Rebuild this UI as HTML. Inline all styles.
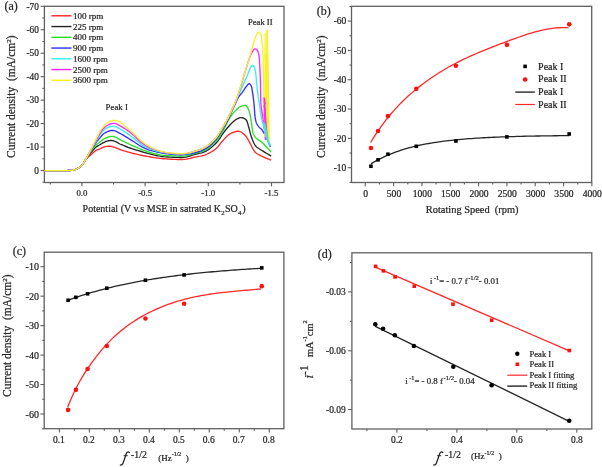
<!DOCTYPE html>
<html><head><meta charset="utf-8"><style>
html,body{margin:0;padding:0;background:#fff;}
svg{display:block;will-change:transform;}
text{font-family:"Liberation Serif",serif;stroke:#2a2a2a;stroke-width:0.22px;}
</style></head><body>
<svg width="602" height="467" viewBox="0 0 602 467">
<rect width="602" height="467" fill="#fff"/>
<rect x="44.4" y="6.3" width="239.6" height="176.2" fill="none" stroke="#606060" stroke-width="1.3"/>
<line x1="40.6" y1="6.30" x2="44.4" y2="6.30" stroke="#606060" stroke-width="1.1"/>
<line x1="40.6" y1="29.76" x2="44.4" y2="29.76" stroke="#606060" stroke-width="1.1"/>
<line x1="40.6" y1="53.22" x2="44.4" y2="53.22" stroke="#606060" stroke-width="1.1"/>
<line x1="40.6" y1="76.67" x2="44.4" y2="76.67" stroke="#606060" stroke-width="1.1"/>
<line x1="40.6" y1="100.13" x2="44.4" y2="100.13" stroke="#606060" stroke-width="1.1"/>
<line x1="40.6" y1="123.59" x2="44.4" y2="123.59" stroke="#606060" stroke-width="1.1"/>
<line x1="40.6" y1="147.04" x2="44.4" y2="147.04" stroke="#606060" stroke-width="1.1"/>
<line x1="40.6" y1="170.50" x2="44.4" y2="170.50" stroke="#606060" stroke-width="1.1"/>
<line x1="42.4" y1="18.03" x2="44.4" y2="18.03" stroke="#606060" stroke-width="1.1"/>
<line x1="42.4" y1="41.49" x2="44.4" y2="41.49" stroke="#606060" stroke-width="1.1"/>
<line x1="42.4" y1="64.94" x2="44.4" y2="64.94" stroke="#606060" stroke-width="1.1"/>
<line x1="42.4" y1="88.40" x2="44.4" y2="88.40" stroke="#606060" stroke-width="1.1"/>
<line x1="42.4" y1="111.86" x2="44.4" y2="111.86" stroke="#606060" stroke-width="1.1"/>
<line x1="42.4" y1="135.31" x2="44.4" y2="135.31" stroke="#606060" stroke-width="1.1"/>
<line x1="42.4" y1="158.77" x2="44.4" y2="158.77" stroke="#606060" stroke-width="1.1"/>
<line x1="42.4" y1="182.23" x2="44.4" y2="182.23" stroke="#606060" stroke-width="1.1"/>
<line x1="81.90" y1="182.5" x2="81.90" y2="186.3" stroke="#606060" stroke-width="1.1"/>
<line x1="145.10" y1="182.5" x2="145.10" y2="186.3" stroke="#606060" stroke-width="1.1"/>
<line x1="208.30" y1="182.5" x2="208.30" y2="186.3" stroke="#606060" stroke-width="1.1"/>
<line x1="271.50" y1="182.5" x2="271.50" y2="186.3" stroke="#606060" stroke-width="1.1"/>
<line x1="50.30" y1="182.5" x2="50.30" y2="184.5" stroke="#606060" stroke-width="1.1"/>
<line x1="113.50" y1="182.5" x2="113.50" y2="184.5" stroke="#606060" stroke-width="1.1"/>
<line x1="176.70" y1="182.5" x2="176.70" y2="184.5" stroke="#606060" stroke-width="1.1"/>
<line x1="239.90" y1="182.5" x2="239.90" y2="184.5" stroke="#606060" stroke-width="1.1"/>
<text x="38.90" y="9.50" font-size="9.3" text-anchor="end" fill="#222" >-70</text>
<text x="38.90" y="32.96" font-size="9.3" text-anchor="end" fill="#222" >-60</text>
<text x="38.90" y="56.42" font-size="9.3" text-anchor="end" fill="#222" >-50</text>
<text x="38.90" y="79.87" font-size="9.3" text-anchor="end" fill="#222" >-40</text>
<text x="38.90" y="103.33" font-size="9.3" text-anchor="end" fill="#222" >-30</text>
<text x="38.90" y="126.79" font-size="9.3" text-anchor="end" fill="#222" >-20</text>
<text x="38.90" y="150.24" font-size="9.3" text-anchor="end" fill="#222" >-10</text>
<text x="38.90" y="173.70" font-size="9.3" text-anchor="end" fill="#222" >0</text>
<text x="81.90" y="196.20" font-size="8.8" text-anchor="middle" fill="#222" >0.0</text>
<text x="145.10" y="196.20" font-size="8.8" text-anchor="middle" fill="#222" >-0.5</text>
<text x="208.30" y="196.20" font-size="8.8" text-anchor="middle" fill="#222" >-1.0</text>
<text x="271.50" y="196.20" font-size="8.8" text-anchor="middle" fill="#222" >-1.5</text>
<text x="82.6" y="211.7" font-size="10" fill="#222" xml:space="preserve">Potential (V v.s MSE in satrated K<tspan font-size="6.8" dy="2.8" dx="0.3">2</tspan><tspan dy="-2.8" dx="0.3">SO</tspan><tspan font-size="6.8" dy="2.8" dx="0.3">4</tspan><tspan dy="-2.8" dx="0.8">)</tspan></text>
<text transform="translate(15.3,158) rotate(-90)" font-size="11.5" fill="#222" xml:space="preserve">Current density  (mA/cm<tspan font-size="7" dy="-4.5">2</tspan><tspan dy="4.5">)</tspan></text>
<text x="4.50" y="9.80" font-size="12" text-anchor="start" fill="#222" >(a)</text>
<text x="105.60" y="109.60" font-size="8.8" text-anchor="start" fill="#222" >Peak I</text>
<text x="248.00" y="24.60" font-size="8.6" text-anchor="start" fill="#222" >Peak II</text>
<line x1="51.4" y1="15.80" x2="71.5" y2="15.80" stroke="#ff2020" stroke-width="1.4"/>
<text x="73.00" y="18.80" font-size="9.0" text-anchor="start" fill="#222" >100 rpm</text>
<line x1="51.4" y1="26.55" x2="71.5" y2="26.55" stroke="#222222" stroke-width="1.4"/>
<text x="73.00" y="29.55" font-size="9.0" text-anchor="start" fill="#222" >225 rpm</text>
<line x1="51.4" y1="37.30" x2="71.5" y2="37.30" stroke="#22e022" stroke-width="1.4"/>
<text x="73.00" y="40.30" font-size="9.0" text-anchor="start" fill="#222" >400 rpm</text>
<line x1="51.4" y1="48.05" x2="71.5" y2="48.05" stroke="#2a2aff" stroke-width="1.4"/>
<text x="73.00" y="51.05" font-size="9.0" text-anchor="start" fill="#222" >900 rpm</text>
<line x1="51.4" y1="58.80" x2="71.5" y2="58.80" stroke="#30f0f0" stroke-width="1.4"/>
<text x="73.00" y="61.80" font-size="9.0" text-anchor="start" fill="#222" >1600 rpm</text>
<line x1="51.4" y1="69.55" x2="71.5" y2="69.55" stroke="#ff20ff" stroke-width="1.4"/>
<text x="73.00" y="72.55" font-size="9.0" text-anchor="start" fill="#222" >2500 rpm</text>
<line x1="51.4" y1="80.30" x2="71.5" y2="80.30" stroke="#f8f020" stroke-width="1.4"/>
<text x="73.00" y="83.30" font-size="9.0" text-anchor="start" fill="#222" >3600 rpm</text>
<path d="M44.40,170.60 L45.35,170.60 L46.30,170.60 L47.24,170.60 L48.19,170.60 L49.14,170.60 L50.09,170.60 L51.04,170.60 L52.00,170.60 L52.99,170.60 L54.00,170.60 L55.01,170.60 L56.02,170.60 L57.03,170.60 L58.03,170.60 L59.02,170.60 L60.00,170.60 L60.91,170.60 L61.81,170.60 L62.71,170.60 L63.60,170.59 L64.48,170.59 L65.34,170.58 L66.18,170.57 L67.00,170.55 L67.67,170.53 L68.32,170.52 L68.96,170.51 L69.59,170.49 L70.21,170.47 L70.81,170.43 L71.41,170.38 L72.00,170.30 L72.53,170.22 L73.05,170.13 L73.56,170.02 L74.06,169.91 L74.56,169.78 L75.04,169.64 L75.53,169.48 L76.00,169.30 L76.46,169.10 L76.92,168.89 L77.37,168.66 L77.81,168.42 L78.24,168.16 L78.67,167.89 L79.09,167.60 L79.50,167.30 L79.92,166.98 L80.32,166.64 L80.72,166.29 L81.11,165.93 L81.49,165.55 L81.86,165.15 L82.23,164.73 L82.60,164.30 L83.00,163.77 L83.38,163.19 L83.74,162.58 L84.09,161.96 L84.45,161.33 L84.83,160.70 L85.25,160.09 L85.70,159.50 L86.25,158.88 L86.85,158.27 L87.48,157.68 L88.13,157.09 L88.80,156.51 L89.47,155.94 L90.14,155.37 L90.80,154.80 L91.44,154.23 L92.09,153.64 L92.75,153.06 L93.40,152.48 L94.06,151.92 L94.71,151.40 L95.36,150.92 L96.00,150.50 L96.51,150.21 L97.01,149.97 L97.51,149.75 L98.01,149.56 L98.51,149.38 L99.00,149.19 L99.50,149.01 L100.00,148.80 L100.50,148.57 L100.99,148.33 L101.47,148.09 L101.96,147.84 L102.45,147.60 L102.96,147.38 L103.47,147.18 L104.00,147.00 L104.59,146.83 L105.20,146.68 L105.82,146.54 L106.46,146.41 L107.09,146.32 L107.73,146.25 L108.37,146.21 L109.00,146.20 L109.62,146.23 L110.24,146.30 L110.86,146.40 L111.48,146.53 L112.10,146.67 L112.73,146.84 L113.36,147.02 L114.00,147.20 L114.72,147.43 L115.43,147.68 L116.15,147.97 L116.87,148.27 L117.61,148.57 L118.38,148.89 L119.17,149.20 L120.00,149.50 L121.11,149.88 L122.27,150.27 L123.46,150.66 L124.70,151.06 L125.98,151.45 L127.29,151.84 L128.63,152.22 L130.00,152.60 L131.72,153.05 L133.53,153.50 L135.39,153.95 L137.30,154.39 L139.23,154.81 L141.17,155.23 L143.10,155.62 L145.00,156.00 L146.87,156.36 L148.74,156.70 L150.61,157.03 L152.49,157.35 L154.37,157.65 L156.24,157.92 L158.12,158.17 L160.00,158.40 L161.89,158.60 L163.82,158.78 L165.75,158.93 L167.68,159.06 L169.59,159.18 L171.46,159.27 L173.27,159.34 L175.00,159.40 L176.35,159.44 L177.64,159.48 L178.90,159.51 L180.13,159.53 L181.35,159.52 L182.56,159.49 L183.77,159.42 L185.00,159.30 L186.25,159.13 L187.50,158.90 L188.74,158.64 L189.99,158.35 L191.23,158.03 L192.48,157.71 L193.74,157.40 L195.00,157.10 L196.33,156.82 L197.67,156.57 L199.01,156.32 L200.37,156.07 L201.72,155.79 L203.06,155.46 L204.39,155.07 L205.70,154.60 L207.10,154.00 L208.53,153.33 L209.96,152.59 L211.38,151.79 L212.75,150.95 L214.06,150.08 L215.29,149.20 L216.40,148.30 L217.22,147.54 L217.94,146.76 L218.61,145.95 L219.23,145.13 L219.83,144.29 L220.45,143.46 L221.10,142.62 L221.80,141.80 L222.64,140.87 L223.52,139.89 L224.43,138.89 L225.35,137.90 L226.27,136.95 L227.18,136.06 L228.06,135.27 L228.90,134.60 L229.43,134.22 L229.94,133.90 L230.43,133.61 L230.92,133.35 L231.41,133.12 L231.91,132.90 L232.44,132.70 L233.00,132.50 L233.70,132.25 L234.44,132.00 L235.21,131.75 L235.99,131.52 L236.79,131.35 L237.58,131.24 L238.35,131.22 L239.10,131.30 L239.88,131.51 L240.65,131.83 L241.42,132.25 L242.18,132.74 L242.92,133.30 L243.64,133.90 L244.34,134.54 L245.00,135.20 L245.72,136.02 L246.39,136.93 L247.02,137.90 L247.63,138.94 L248.22,140.00 L248.81,141.08 L249.40,142.15 L250.00,143.20 L250.62,144.31 L251.22,145.48 L251.81,146.69 L252.41,147.89 L253.01,149.05 L253.64,150.15 L254.30,151.14 L255.00,152.00 L255.58,152.56 L256.17,153.06 L256.79,153.49 L257.42,153.89 L258.07,154.26 L258.71,154.60 L259.36,154.95 L260.00,155.30 L260.61,155.64 L261.22,155.96 L261.83,156.26 L262.45,156.56 L263.07,156.85 L263.70,157.13 L264.34,157.41 L265.00,157.70 L265.74,158.01 L266.50,158.32 L267.27,158.62 L268.05,158.91 L268.84,159.21 L269.63,159.51 L270.42,159.80 L271.20,160.10" fill="none" stroke="#ff2828" stroke-width="1.35" stroke-linejoin="round"/>
<path d="M44.40,170.60 L45.35,170.60 L46.30,170.60 L47.24,170.60 L48.19,170.60 L49.14,170.60 L50.09,170.60 L51.04,170.60 L52.00,170.60 L52.99,170.60 L54.00,170.60 L55.01,170.60 L56.02,170.60 L57.03,170.60 L58.03,170.60 L59.02,170.60 L60.00,170.60 L60.91,170.60 L61.81,170.60 L62.71,170.60 L63.60,170.59 L64.48,170.59 L65.34,170.58 L66.18,170.57 L67.00,170.55 L67.67,170.53 L68.32,170.52 L68.96,170.51 L69.59,170.49 L70.21,170.47 L70.81,170.43 L71.41,170.38 L72.00,170.30 L72.53,170.22 L73.05,170.13 L73.56,170.02 L74.06,169.91 L74.56,169.78 L75.04,169.64 L75.53,169.48 L76.00,169.30 L76.46,169.10 L76.92,168.89 L77.37,168.66 L77.81,168.42 L78.24,168.16 L78.67,167.89 L79.09,167.60 L79.50,167.30 L79.92,166.98 L80.32,166.64 L80.72,166.29 L81.11,165.93 L81.49,165.55 L81.87,165.15 L82.24,164.74 L82.60,164.30 L83.01,163.76 L83.39,163.19 L83.75,162.60 L84.12,161.98 L84.48,161.34 L84.86,160.70 L85.26,160.05 L85.70,159.40 L86.26,158.62 L86.86,157.81 L87.49,156.99 L88.14,156.16 L88.80,155.33 L89.47,154.50 L90.14,153.69 L90.80,152.90 L91.44,152.13 L92.08,151.34 L92.73,150.55 L93.39,149.78 L94.04,149.03 L94.70,148.32 L95.35,147.68 L96.00,147.10 L96.50,146.71 L97.00,146.37 L97.50,146.07 L98.00,145.79 L98.50,145.52 L99.00,145.26 L99.50,144.99 L100.00,144.70 L100.49,144.39 L100.97,144.08 L101.45,143.77 L101.93,143.45 L102.42,143.14 L102.92,142.84 L103.45,142.56 L104.00,142.30 L104.68,142.01 L105.41,141.71 L106.16,141.42 L106.94,141.16 L107.72,140.92 L108.50,140.73 L109.26,140.58 L110.00,140.50 L110.64,140.48 L111.28,140.50 L111.91,140.56 L112.54,140.65 L113.16,140.77 L113.78,140.93 L114.39,141.10 L115.00,141.30 L115.63,141.55 L116.23,141.84 L116.81,142.17 L117.40,142.52 L118.00,142.89 L118.62,143.27 L119.29,143.64 L120.00,144.00 L121.06,144.49 L122.19,144.98 L123.39,145.48 L124.64,145.99 L125.93,146.50 L127.26,147.00 L128.62,147.51 L130.00,148.00 L131.72,148.59 L133.52,149.19 L135.38,149.79 L137.29,150.38 L139.22,150.96 L141.17,151.52 L143.10,152.07 L145.00,152.60 L146.87,153.11 L148.74,153.63 L150.61,154.13 L152.48,154.62 L154.36,155.08 L156.23,155.50 L158.11,155.88 L160.00,156.20 L161.89,156.46 L163.81,156.68 L165.74,156.85 L167.68,156.99 L169.59,157.09 L171.46,157.18 L173.27,157.24 L175.00,157.30 L176.35,157.35 L177.65,157.40 L178.90,157.44 L180.14,157.47 L181.35,157.47 L182.56,157.43 L183.77,157.34 L185.00,157.20 L186.26,156.98 L187.51,156.70 L188.75,156.36 L189.99,155.98 L191.23,155.58 L192.48,155.18 L193.74,154.78 L195.00,154.40 L196.33,154.05 L197.67,153.74 L199.03,153.45 L200.39,153.14 L201.75,152.79 L203.09,152.39 L204.41,151.90 L205.70,151.30 L207.12,150.50 L208.54,149.58 L209.95,148.56 L211.33,147.46 L212.68,146.31 L213.98,145.12 L215.23,143.91 L216.40,142.70 L217.42,141.54 L218.37,140.32 L219.26,139.07 L220.11,137.80 L220.94,136.52 L221.77,135.24 L222.62,134.00 L223.50,132.80 L224.38,131.67 L225.27,130.54 L226.17,129.41 L227.07,128.30 L227.97,127.22 L228.86,126.19 L229.74,125.21 L230.60,124.30 L231.25,123.63 L231.89,122.99 L232.52,122.38 L233.14,121.80 L233.76,121.25 L234.39,120.73 L235.04,120.25 L235.70,119.80 L236.31,119.41 L236.94,119.02 L237.58,118.65 L238.22,118.32 L238.86,118.03 L239.51,117.80 L240.16,117.65 L240.80,117.60 L241.47,117.64 L242.16,117.75 L242.87,117.94 L243.57,118.20 L244.25,118.52 L244.89,118.89 L245.48,119.32 L246.00,119.80 L246.50,120.44 L246.92,121.19 L247.27,122.03 L247.57,122.94 L247.83,123.88 L248.08,124.84 L248.33,125.79 L248.60,126.70 L248.87,127.60 L249.11,128.51 L249.34,129.42 L249.56,130.35 L249.77,131.27 L250.00,132.18 L250.24,133.10 L250.50,134.00 L250.78,134.89 L251.06,135.79 L251.36,136.69 L251.66,137.59 L251.98,138.47 L252.30,139.33 L252.64,140.18 L253.00,141.00 L253.33,141.73 L253.64,142.45 L253.97,143.16 L254.31,143.86 L254.67,144.53 L255.06,145.18 L255.50,145.81 L256.00,146.40 L256.60,147.00 L257.27,147.54 L257.98,148.05 L258.73,148.54 L259.52,149.01 L260.33,149.49 L261.16,149.98 L262.00,150.50 L263.05,151.17 L264.15,151.85 L265.30,152.55 L266.47,153.26 L267.66,153.97 L268.85,154.68 L270.04,155.40 L271.20,156.10" fill="none" stroke="#262626" stroke-width="1.35" stroke-linejoin="round"/>
<path d="M44.40,170.60 L45.35,170.60 L46.30,170.60 L47.24,170.60 L48.19,170.60 L49.14,170.60 L50.09,170.60 L51.04,170.60 L52.00,170.60 L52.99,170.60 L54.00,170.60 L55.01,170.60 L56.02,170.60 L57.03,170.60 L58.03,170.60 L59.02,170.60 L60.00,170.60 L60.91,170.60 L61.81,170.60 L62.71,170.60 L63.60,170.59 L64.48,170.59 L65.34,170.58 L66.18,170.57 L67.00,170.55 L67.67,170.53 L68.32,170.52 L68.96,170.51 L69.59,170.49 L70.21,170.47 L70.81,170.43 L71.41,170.38 L72.00,170.30 L72.53,170.22 L73.05,170.13 L73.56,170.02 L74.06,169.91 L74.56,169.78 L75.04,169.64 L75.53,169.48 L76.00,169.30 L76.46,169.10 L76.92,168.89 L77.37,168.66 L77.81,168.42 L78.24,168.16 L78.67,167.89 L79.09,167.60 L79.50,167.30 L79.92,166.98 L80.32,166.64 L80.72,166.29 L81.11,165.93 L81.49,165.55 L81.87,165.15 L82.24,164.74 L82.60,164.30 L83.01,163.77 L83.39,163.21 L83.77,162.62 L84.13,162.01 L84.50,161.39 L84.88,160.74 L85.28,160.08 L85.70,159.40 L86.27,158.50 L86.87,157.55 L87.50,156.56 L88.14,155.55 L88.80,154.53 L89.46,153.52 L90.13,152.54 L90.80,151.60 L91.43,150.74 L92.08,149.88 L92.73,149.02 L93.39,148.19 L94.05,147.38 L94.70,146.60 L95.36,145.87 L96.00,145.20 L96.50,144.71 L97.01,144.26 L97.51,143.84 L98.00,143.44 L98.50,143.06 L99.00,142.68 L99.50,142.29 L100.00,141.90 L100.49,141.50 L100.96,141.09 L101.42,140.68 L101.89,140.28 L102.37,139.88 L102.88,139.50 L103.42,139.14 L104.00,138.80 L104.80,138.40 L105.70,138.00 L106.65,137.62 L107.63,137.26 L108.62,136.95 L109.58,136.69 L110.48,136.51 L111.30,136.40 L111.82,136.38 L112.30,136.38 L112.76,136.43 L113.20,136.49 L113.64,136.59 L114.08,136.71 L114.53,136.84 L115.00,137.00 L115.59,137.23 L116.17,137.51 L116.76,137.83 L117.36,138.18 L117.97,138.55 L118.61,138.93 L119.29,139.32 L120.00,139.70 L121.07,140.24 L122.20,140.81 L123.40,141.40 L124.64,142.01 L125.94,142.63 L127.26,143.25 L128.62,143.88 L130.00,144.50 L131.72,145.27 L133.52,146.07 L135.38,146.88 L137.28,147.70 L139.21,148.50 L141.15,149.28 L143.09,150.02 L145.00,150.70 L146.86,151.33 L148.72,151.93 L150.59,152.51 L152.46,153.05 L154.34,153.56 L156.23,154.02 L158.11,154.44 L160.00,154.80 L161.88,155.09 L163.80,155.33 L165.74,155.51 L167.67,155.66 L169.58,155.77 L171.46,155.86 L173.27,155.93 L175.00,156.00 L176.35,156.06 L177.64,156.12 L178.90,156.18 L180.14,156.21 L181.35,156.22 L182.56,156.20 L183.77,156.13 L185.00,156.00 L186.26,155.81 L187.51,155.55 L188.75,155.25 L190.00,154.92 L191.24,154.55 L192.49,154.17 L193.74,153.78 L195.00,153.40 L196.33,153.02 L197.68,152.66 L199.04,152.30 L200.40,151.91 L201.75,151.49 L203.09,151.01 L204.41,150.45 L205.70,149.80 L207.13,148.95 L208.56,147.98 L210.00,146.92 L211.40,145.78 L212.77,144.60 L214.07,143.39 L215.28,142.18 L216.40,141.00 L217.25,140.02 L218.01,139.05 L218.71,138.08 L219.36,137.09 L219.99,136.07 L220.63,135.01 L221.29,133.89 L222.00,132.70 L223.01,130.91 L224.06,128.92 L225.12,126.79 L226.20,124.60 L227.29,122.41 L228.39,120.30 L229.50,118.34 L230.60,116.60 L231.44,115.40 L232.30,114.25 L233.17,113.14 L234.04,112.10 L234.90,111.12 L235.75,110.22 L236.59,109.41 L237.40,108.70 L237.93,108.27 L238.44,107.89 L238.94,107.55 L239.44,107.24 L239.94,106.96 L240.45,106.72 L240.97,106.50 L241.50,106.30 L242.05,106.11 L242.63,105.91 L243.22,105.73 L243.82,105.58 L244.41,105.48 L244.98,105.46 L245.51,105.52 L246.00,105.70 L246.56,106.10 L247.07,106.69 L247.53,107.42 L247.96,108.26 L248.35,109.18 L248.72,110.15 L249.07,111.14 L249.40,112.10 L249.78,113.33 L250.10,114.66 L250.37,116.06 L250.61,117.51 L250.83,118.98 L251.05,120.45 L251.26,121.90 L251.50,123.30 L251.72,124.63 L251.91,125.99 L252.09,127.36 L252.27,128.71 L252.46,130.03 L252.69,131.28 L252.96,132.45 L253.30,133.50 L253.57,134.18 L253.84,134.80 L254.13,135.39 L254.44,135.94 L254.78,136.47 L255.15,136.98 L255.55,137.49 L256.00,138.00 L256.60,138.58 L257.27,139.12 L258.00,139.62 L258.76,140.11 L259.56,140.62 L260.38,141.15 L261.19,141.74 L262.00,142.40 L263.09,143.40 L264.21,144.52 L265.35,145.72 L266.52,146.98 L267.69,148.27 L268.87,149.57 L270.04,150.86 L271.20,152.10" fill="none" stroke="#28e028" stroke-width="1.35" stroke-linejoin="round"/>
<path d="M44.40,170.60 L45.35,170.60 L46.30,170.60 L47.24,170.60 L48.19,170.60 L49.14,170.60 L50.09,170.60 L51.04,170.60 L52.00,170.60 L52.99,170.60 L54.00,170.60 L55.01,170.60 L56.02,170.60 L57.03,170.60 L58.03,170.60 L59.02,170.60 L60.00,170.60 L60.91,170.60 L61.81,170.60 L62.71,170.60 L63.60,170.59 L64.48,170.59 L65.34,170.58 L66.18,170.57 L67.00,170.55 L67.67,170.53 L68.32,170.52 L68.96,170.51 L69.59,170.49 L70.21,170.47 L70.81,170.43 L71.41,170.38 L72.00,170.30 L72.53,170.22 L73.05,170.13 L73.56,170.02 L74.06,169.91 L74.56,169.78 L75.04,169.64 L75.53,169.48 L76.00,169.30 L76.46,169.10 L76.92,168.89 L77.37,168.66 L77.81,168.42 L78.24,168.16 L78.67,167.89 L79.09,167.60 L79.50,167.30 L79.92,166.98 L80.32,166.64 L80.72,166.29 L81.11,165.93 L81.49,165.55 L81.87,165.15 L82.24,164.74 L82.60,164.30 L83.01,163.77 L83.40,163.21 L83.77,162.63 L84.14,162.03 L84.51,161.40 L84.89,160.76 L85.28,160.09 L85.70,159.40 L86.28,158.46 L86.89,157.46 L87.52,156.42 L88.17,155.34 L88.83,154.25 L89.49,153.15 L90.15,152.06 L90.80,151.00 L91.45,149.93 L92.10,148.84 L92.75,147.74 L93.41,146.64 L94.06,145.56 L94.71,144.52 L95.36,143.53 L96.00,142.60 L96.51,141.91 L97.01,141.25 L97.50,140.62 L98.00,140.02 L98.49,139.43 L98.99,138.85 L99.49,138.28 L100.00,137.70 L100.47,137.14 L100.93,136.58 L101.38,136.02 L101.83,135.47 L102.31,134.94 L102.82,134.43 L103.38,133.95 L104.00,133.50 L104.88,132.95 L105.86,132.41 L106.93,131.88 L108.04,131.40 L109.18,130.99 L110.32,130.67 L111.44,130.46 L112.50,130.40 L113.46,130.49 L114.39,130.70 L115.32,131.03 L116.23,131.43 L117.15,131.89 L118.08,132.39 L119.03,132.90 L120.00,133.40 L121.18,134.01 L122.38,134.67 L123.58,135.37 L124.81,136.11 L126.06,136.88 L127.34,137.67 L128.65,138.48 L130.00,139.30 L131.73,140.37 L133.52,141.54 L135.37,142.77 L137.26,144.01 L139.18,145.24 L141.11,146.41 L143.06,147.47 L145.00,148.40 L146.83,149.15 L148.69,149.83 L150.55,150.43 L152.43,150.97 L154.32,151.45 L156.21,151.90 L158.11,152.31 L160.00,152.70 L161.88,153.05 L163.80,153.36 L165.74,153.63 L167.67,153.87 L169.58,154.07 L171.45,154.24 L173.27,154.38 L175.00,154.50 L176.35,154.58 L177.64,154.66 L178.90,154.71 L180.13,154.75 L181.34,154.76 L182.55,154.74 L183.77,154.69 L185.00,154.60 L186.25,154.47 L187.50,154.31 L188.75,154.12 L190.00,153.89 L191.25,153.64 L192.50,153.36 L193.75,153.04 L195.00,152.70 L196.34,152.32 L197.69,151.92 L199.05,151.50 L200.41,151.04 L201.76,150.54 L203.10,149.97 L204.41,149.33 L205.70,148.60 L207.13,147.67 L208.57,146.61 L210.01,145.46 L211.41,144.23 L212.77,142.96 L214.07,141.66 L215.29,140.37 L216.40,139.10 L217.26,138.02 L218.04,136.93 L218.76,135.82 L219.43,134.70 L220.08,133.57 L220.71,132.44 L221.34,131.32 L222.00,130.20 L222.66,129.10 L223.32,128.01 L223.97,126.92 L224.62,125.83 L225.26,124.73 L225.88,123.63 L226.50,122.52 L227.10,121.40 L227.69,120.27 L228.26,119.12 L228.81,117.97 L229.36,116.81 L229.90,115.66 L230.44,114.50 L230.97,113.34 L231.50,112.20 L232.02,111.08 L232.53,109.95 L233.03,108.82 L233.54,107.70 L234.03,106.59 L234.53,105.49 L235.02,104.43 L235.50,103.40 L235.91,102.54 L236.30,101.69 L236.68,100.86 L237.06,100.05 L237.45,99.26 L237.85,98.48 L238.26,97.73 L238.70,97.00 L239.12,96.36 L239.56,95.76 L240.00,95.18 L240.46,94.61 L240.93,94.04 L241.39,93.48 L241.85,92.90 L242.30,92.30 L242.77,91.65 L243.23,90.97 L243.69,90.28 L244.15,89.58 L244.61,88.90 L245.08,88.23 L245.54,87.59 L246.00,87.00 L246.39,86.49 L246.79,85.95 L247.19,85.40 L247.59,84.88 L247.99,84.42 L248.37,84.05 L248.75,83.80 L249.10,83.70 L249.36,83.73 L249.62,83.85 L249.87,84.03 L250.12,84.26 L250.36,84.53 L250.59,84.84 L250.80,85.17 L251.00,85.50 L251.28,86.08 L251.51,86.76 L251.71,87.51 L251.89,88.33 L252.04,89.20 L252.19,90.11 L252.34,91.05 L252.50,92.00 L252.73,93.41 L252.95,94.93 L253.16,96.54 L253.37,98.21 L253.56,99.92 L253.75,101.64 L253.93,103.34 L254.10,105.00 L254.25,106.67 L254.38,108.39 L254.50,110.15 L254.61,111.89 L254.72,113.58 L254.85,115.19 L255.01,116.67 L255.20,118.00 L255.33,118.75 L255.46,119.44 L255.59,120.09 L255.74,120.71 L255.89,121.29 L256.07,121.87 L256.27,122.43 L256.50,123.00 L256.75,123.54 L257.02,124.08 L257.31,124.60 L257.63,125.11 L257.95,125.61 L258.29,126.09 L258.64,126.55 L259.00,127.00 L259.35,127.38 L259.71,127.72 L260.08,128.03 L260.47,128.34 L260.86,128.65 L261.25,128.99 L261.63,129.37 L262.00,129.80 L262.51,130.51 L263.02,131.30 L263.52,132.16 L264.02,133.08 L264.52,134.04 L265.01,135.02 L265.51,136.01 L266.00,137.00 L266.57,138.15 L267.13,139.35 L267.70,140.59 L268.26,141.84 L268.82,143.11 L269.38,144.38 L269.94,145.65 L270.50,146.90" fill="none" stroke="#3030ff" stroke-width="1.35" stroke-linejoin="round"/>
<path d="M44.40,170.60 L45.35,170.60 L46.30,170.60 L47.24,170.60 L48.19,170.60 L49.14,170.60 L50.09,170.60 L51.04,170.60 L52.00,170.60 L52.99,170.60 L54.00,170.60 L55.01,170.60 L56.02,170.60 L57.03,170.60 L58.03,170.60 L59.02,170.60 L60.00,170.60 L60.91,170.60 L61.81,170.60 L62.71,170.60 L63.60,170.59 L64.48,170.59 L65.34,170.58 L66.18,170.57 L67.00,170.55 L67.67,170.53 L68.32,170.52 L68.96,170.51 L69.59,170.49 L70.21,170.47 L70.81,170.43 L71.41,170.38 L72.00,170.30 L72.53,170.22 L73.05,170.13 L73.56,170.02 L74.06,169.91 L74.56,169.78 L75.04,169.64 L75.53,169.48 L76.00,169.30 L76.46,169.10 L76.92,168.89 L77.37,168.66 L77.81,168.42 L78.24,168.16 L78.67,167.89 L79.09,167.60 L79.50,167.30 L79.92,166.98 L80.32,166.64 L80.72,166.30 L81.11,165.93 L81.49,165.55 L81.87,165.16 L82.24,164.74 L82.60,164.30 L83.01,163.76 L83.40,163.20 L83.77,162.61 L84.14,161.99 L84.51,161.35 L84.89,160.69 L85.28,160.01 L85.70,159.30 L86.28,158.32 L86.89,157.28 L87.53,156.19 L88.17,155.06 L88.83,153.92 L89.49,152.77 L90.15,151.62 L90.80,150.50 L91.45,149.38 L92.10,148.25 L92.75,147.12 L93.40,145.99 L94.05,144.86 L94.70,143.73 L95.35,142.61 L96.00,141.50 L96.63,140.40 L97.25,139.28 L97.86,138.15 L98.48,137.03 L99.10,135.94 L99.74,134.90 L100.41,133.91 L101.10,133.00 L101.70,132.29 L102.30,131.61 L102.91,130.96 L103.53,130.35 L104.18,129.77 L104.85,129.24 L105.56,128.75 L106.30,128.30 L107.13,127.86 L108.03,127.45 L108.96,127.07 L109.92,126.74 L110.89,126.48 L111.86,126.29 L112.80,126.19 L113.70,126.20 L114.51,126.31 L115.30,126.53 L116.06,126.83 L116.82,127.19 L117.59,127.61 L118.36,128.06 L119.16,128.53 L120.00,129.00 L121.14,129.65 L122.32,130.35 L123.53,131.11 L124.77,131.92 L126.03,132.77 L127.33,133.66 L128.65,134.57 L130.00,135.50 L131.73,136.76 L133.52,138.15 L135.36,139.63 L137.25,141.14 L139.16,142.64 L141.10,144.06 L143.05,145.37 L145.00,146.50 L146.82,147.41 L148.66,148.23 L150.53,148.97 L152.41,149.64 L154.30,150.25 L156.20,150.81 L158.10,151.32 L160.00,151.80 L161.88,152.22 L163.79,152.59 L165.73,152.91 L167.66,153.18 L169.58,153.42 L171.45,153.61 L173.26,153.77 L175.00,153.90 L176.34,153.99 L177.64,154.07 L178.90,154.12 L180.13,154.15 L181.35,154.15 L182.56,154.11 L183.77,154.03 L185.00,153.90 L186.26,153.71 L187.51,153.47 L188.76,153.18 L190.00,152.85 L191.25,152.49 L192.50,152.11 L193.75,151.71 L195.00,151.30 L196.34,150.87 L197.69,150.43 L199.05,149.98 L200.41,149.50 L201.76,148.98 L203.10,148.40 L204.41,147.74 L205.70,147.00 L207.13,146.05 L208.57,144.97 L210.00,143.80 L211.41,142.56 L212.77,141.27 L214.07,139.97 L215.28,138.67 L216.40,137.40 L217.26,136.34 L218.04,135.26 L218.75,134.18 L219.43,133.09 L220.07,132.00 L220.71,130.90 L221.34,129.80 L222.00,128.70 L222.66,127.61 L223.32,126.52 L223.98,125.43 L224.62,124.33 L225.26,123.23 L225.88,122.13 L226.50,121.02 L227.10,119.90 L227.68,118.78 L228.26,117.65 L228.81,116.51 L229.36,115.36 L229.90,114.22 L230.44,113.08 L230.97,111.93 L231.50,110.80 L232.02,109.69 L232.53,108.58 L233.04,107.46 L233.55,106.35 L234.05,105.24 L234.54,104.15 L235.03,103.06 L235.50,102.00 L235.92,101.04 L236.33,100.10 L236.73,99.17 L237.13,98.24 L237.52,97.32 L237.91,96.41 L238.30,95.50 L238.70,94.60 L239.09,93.74 L239.47,92.88 L239.86,92.04 L240.25,91.20 L240.64,90.36 L241.02,89.51 L241.41,88.66 L241.80,87.80 L242.20,86.90 L242.61,85.98 L243.01,85.05 L243.42,84.13 L243.82,83.20 L244.22,82.29 L244.61,81.38 L245.00,80.50 L245.35,79.71 L245.69,78.94 L246.03,78.18 L246.37,77.43 L246.71,76.68 L247.04,75.93 L247.37,75.17 L247.70,74.40 L248.03,73.59 L248.35,72.74 L248.67,71.87 L248.98,71.01 L249.30,70.17 L249.63,69.38 L249.96,68.65 L250.30,68.00 L250.54,67.59 L250.78,67.17 L251.03,66.77 L251.28,66.39 L251.53,66.06 L251.78,65.79 L252.04,65.60 L252.30,65.50 L252.51,65.49 L252.73,65.53 L252.96,65.61 L253.18,65.73 L253.40,65.89 L253.61,66.07 L253.82,66.28 L254.00,66.50 L254.27,66.94 L254.51,67.48 L254.71,68.10 L254.89,68.80 L255.05,69.55 L255.20,70.34 L255.35,71.16 L255.50,72.00 L255.72,73.36 L255.90,74.87 L256.06,76.49 L256.21,78.18 L256.34,79.92 L256.48,81.66 L256.63,83.36 L256.80,85.00 L256.98,86.54 L257.16,88.09 L257.35,89.64 L257.54,91.18 L257.73,92.70 L257.92,94.18 L258.11,95.62 L258.30,97.00 L258.45,98.08 L258.60,99.11 L258.76,100.12 L258.91,101.10 L259.06,102.07 L259.21,103.04 L259.35,104.01 L259.50,105.00 L259.64,106.00 L259.77,106.99 L259.89,107.98 L260.02,108.97 L260.14,109.97 L260.28,110.97 L260.43,111.98 L260.60,113.00 L260.80,114.11 L261.01,115.24 L261.24,116.39 L261.48,117.55 L261.73,118.69 L261.98,119.82 L262.24,120.93 L262.50,122.00 L262.73,122.90 L262.95,123.75 L263.17,124.56 L263.39,125.37 L263.63,126.20 L263.89,127.06 L264.18,127.99 L264.50,129.00 L265.08,130.77 L265.75,132.74 L266.49,134.84 L267.28,137.04 L268.10,139.30 L268.92,141.58 L269.73,143.82 L270.50,146.00" fill="none" stroke="#30f0f0" stroke-width="1.35" stroke-linejoin="round"/>
<path d="M44.40,170.60 L45.35,170.60 L46.30,170.60 L47.24,170.60 L48.19,170.60 L49.14,170.60 L50.09,170.60 L51.04,170.60 L52.00,170.60 L52.99,170.60 L54.00,170.60 L55.01,170.60 L56.02,170.60 L57.03,170.60 L58.03,170.60 L59.02,170.60 L60.00,170.60 L60.91,170.60 L61.81,170.60 L62.71,170.60 L63.60,170.59 L64.48,170.59 L65.34,170.58 L66.18,170.57 L67.00,170.55 L67.67,170.53 L68.32,170.52 L68.96,170.51 L69.59,170.49 L70.21,170.47 L70.81,170.43 L71.41,170.38 L72.00,170.30 L72.53,170.22 L73.05,170.13 L73.56,170.02 L74.06,169.91 L74.56,169.78 L75.04,169.64 L75.53,169.48 L76.00,169.30 L76.46,169.10 L76.92,168.89 L77.37,168.66 L77.81,168.42 L78.24,168.16 L78.67,167.89 L79.09,167.60 L79.50,167.30 L79.92,166.98 L80.32,166.64 L80.72,166.30 L81.11,165.93 L81.49,165.55 L81.87,165.16 L82.24,164.74 L82.60,164.30 L83.01,163.76 L83.40,163.20 L83.78,162.62 L84.15,162.00 L84.52,161.37 L84.90,160.70 L85.29,160.01 L85.70,159.30 L86.29,158.28 L86.90,157.19 L87.53,156.03 L88.18,154.84 L88.84,153.63 L89.50,152.40 L90.15,151.19 L90.80,150.00 L91.45,148.82 L92.10,147.63 L92.75,146.43 L93.40,145.24 L94.05,144.05 L94.70,142.86 L95.35,141.67 L96.00,140.50 L96.63,139.34 L97.25,138.17 L97.86,136.98 L98.48,135.81 L99.11,134.66 L99.75,133.55 L100.41,132.49 L101.10,131.50 L101.70,130.70 L102.29,129.92 L102.90,129.16 L103.52,128.45 L104.16,127.77 L104.83,127.13 L105.54,126.54 L106.30,126.00 L107.16,125.48 L108.08,124.97 L109.06,124.51 L110.07,124.09 L111.09,123.75 L112.09,123.49 L113.07,123.34 L114.00,123.30 L114.78,123.38 L115.53,123.55 L116.26,123.81 L116.98,124.14 L117.70,124.52 L118.44,124.93 L119.20,125.36 L120.00,125.80 L121.14,126.42 L122.31,127.10 L123.53,127.84 L124.77,128.64 L126.05,129.49 L127.35,130.38 L128.66,131.32 L130.00,132.30 L131.75,133.69 L133.54,135.27 L135.38,136.97 L137.25,138.72 L139.15,140.47 L141.08,142.14 L143.03,143.67 L145.00,145.00 L146.81,146.05 L148.65,147.02 L150.51,147.90 L152.39,148.71 L154.28,149.44 L156.18,150.12 L158.09,150.73 L160.00,151.30 L161.87,151.79 L163.78,152.22 L165.72,152.59 L167.65,152.90 L169.57,153.16 L171.45,153.38 L173.26,153.56 L175.00,153.70 L176.34,153.79 L177.64,153.86 L178.90,153.89 L180.13,153.90 L181.35,153.88 L182.55,153.82 L183.77,153.73 L185.00,153.60 L186.26,153.43 L187.51,153.21 L188.76,152.96 L190.00,152.67 L191.25,152.35 L192.50,152.01 L193.75,151.64 L195.00,151.25 L196.34,150.83 L197.69,150.40 L199.05,149.95 L200.41,149.47 L201.76,148.94 L203.10,148.35 L204.41,147.69 L205.70,146.95 L207.13,146.00 L208.57,144.92 L210.00,143.75 L211.41,142.51 L212.77,141.22 L214.07,139.92 L215.28,138.62 L216.40,137.35 L217.26,136.29 L218.04,135.21 L218.75,134.13 L219.43,133.04 L220.07,131.95 L220.71,130.85 L221.34,129.75 L222.00,128.65 L222.66,127.56 L223.32,126.47 L223.98,125.38 L224.62,124.28 L225.26,123.18 L225.88,122.08 L226.50,120.97 L227.10,119.85 L227.69,118.72 L228.26,117.58 L228.81,116.44 L229.36,115.29 L229.90,114.14 L230.44,112.99 L230.97,111.84 L231.50,110.70 L232.02,109.60 L232.53,108.52 L233.04,107.44 L233.55,106.36 L234.05,105.28 L234.54,104.18 L235.03,103.05 L235.50,101.90 L236.00,100.62 L236.48,99.33 L236.95,98.02 L237.42,96.69 L237.88,95.33 L238.34,93.93 L238.81,92.49 L239.30,91.00 L239.93,89.04 L240.59,86.94 L241.26,84.76 L241.93,82.53 L242.60,80.30 L243.26,78.11 L243.90,75.99 L244.50,74.00 L244.97,72.44 L245.42,70.92 L245.86,69.43 L246.29,67.97 L246.71,66.55 L247.14,65.17 L247.56,63.82 L248.00,62.50 L248.37,61.41 L248.74,60.33 L249.11,59.28 L249.48,58.25 L249.85,57.25 L250.23,56.29 L250.61,55.37 L251.00,54.50 L251.30,53.84 L251.61,53.19 L251.91,52.56 L252.22,51.96 L252.53,51.39 L252.85,50.86 L253.17,50.40 L253.50,50.00 L253.72,49.77 L253.94,49.54 L254.16,49.34 L254.39,49.15 L254.62,49.00 L254.85,48.88 L255.07,48.82 L255.30,48.80 L255.55,48.85 L255.81,48.97 L256.08,49.14 L256.34,49.36 L256.60,49.62 L256.85,49.90 L257.08,50.20 L257.30,50.50 L257.57,50.93 L257.81,51.40 L258.03,51.91 L258.23,52.46 L258.41,53.04 L258.59,53.66 L258.75,54.32 L258.90,55.00 L259.10,56.11 L259.26,57.33 L259.39,58.63 L259.49,60.00 L259.57,61.43 L259.64,62.92 L259.72,64.45 L259.80,66.00 L259.92,68.12 L260.02,70.37 L260.11,72.72 L260.20,75.15 L260.28,77.61 L260.35,80.09 L260.43,82.57 L260.50,85.00 L260.56,87.52 L260.60,90.13 L260.62,92.77 L260.65,95.40 L260.68,97.99 L260.75,100.48 L260.85,102.83 L261.00,105.00 L261.14,106.42 L261.31,107.75 L261.49,109.01 L261.69,110.22 L261.90,111.40 L262.10,112.58 L262.31,113.77 L262.50,115.00 L262.69,116.24 L262.88,117.45 L263.07,118.66 L263.27,119.87 L263.46,121.10 L263.64,122.36 L263.82,123.65 L264.00,125.00 L264.20,126.73 L264.40,128.53 L264.59,130.40 L264.77,132.31 L264.95,134.24 L265.13,136.18 L265.31,138.10 L265.50,140.00" fill="none" stroke="#ff28ff" stroke-width="1.35" stroke-linejoin="round"/>
<path d="M44.40,170.60 L45.35,170.60 L46.30,170.60 L47.24,170.60 L48.19,170.60 L49.14,170.60 L50.09,170.60 L51.04,170.60 L52.00,170.60 L52.99,170.60 L54.00,170.60 L55.01,170.60 L56.02,170.60 L57.03,170.60 L58.03,170.60 L59.02,170.60 L60.00,170.60 L60.91,170.60 L61.81,170.60 L62.71,170.60 L63.60,170.59 L64.48,170.59 L65.34,170.58 L66.18,170.57 L67.00,170.55 L67.67,170.53 L68.32,170.52 L68.96,170.51 L69.59,170.49 L70.21,170.47 L70.81,170.43 L71.41,170.38 L72.00,170.30 L72.53,170.22 L73.05,170.13 L73.56,170.02 L74.06,169.91 L74.56,169.78 L75.04,169.64 L75.53,169.48 L76.00,169.30 L76.46,169.10 L76.92,168.89 L77.37,168.66 L77.81,168.42 L78.24,168.16 L78.67,167.89 L79.09,167.60 L79.50,167.30 L79.92,166.98 L80.32,166.64 L80.72,166.30 L81.11,165.93 L81.49,165.55 L81.87,165.16 L82.24,164.74 L82.60,164.30 L83.01,163.76 L83.40,163.20 L83.78,162.62 L84.15,162.01 L84.52,161.37 L84.90,160.71 L85.29,160.02 L85.70,159.30 L86.29,158.26 L86.90,157.14 L87.54,155.95 L88.19,154.73 L88.85,153.47 L89.50,152.20 L90.16,150.94 L90.80,149.70 L91.45,148.43 L92.10,147.14 L92.75,145.85 L93.40,144.55 L94.05,143.25 L94.70,141.96 L95.35,140.67 L96.00,139.40 L96.63,138.16 L97.25,136.91 L97.86,135.65 L98.48,134.41 L99.11,133.19 L99.75,132.00 L100.41,130.87 L101.10,129.80 L101.71,128.92 L102.34,128.07 L102.99,127.24 L103.64,126.44 L104.31,125.68 L104.97,124.97 L105.64,124.31 L106.30,123.70 L106.82,123.26 L107.34,122.84 L107.85,122.46 L108.38,122.10 L108.90,121.77 L109.43,121.48 L109.96,121.22 L110.50,121.00 L111.00,120.83 L111.50,120.68 L112.00,120.56 L112.50,120.47 L113.02,120.40 L113.54,120.37 L114.06,120.37 L114.60,120.40 L115.24,120.48 L115.88,120.59 L116.53,120.75 L117.20,120.95 L117.87,121.20 L118.56,121.49 L119.27,121.82 L120.00,122.20 L121.13,122.88 L122.30,123.69 L123.51,124.62 L124.75,125.65 L126.02,126.74 L127.33,127.88 L128.65,129.04 L130.00,130.20 L131.73,131.75 L133.52,133.46 L135.36,135.27 L137.23,137.12 L139.14,138.96 L141.07,140.72 L143.03,142.36 L145.00,143.80 L146.81,144.97 L148.64,146.06 L150.50,147.07 L152.37,148.01 L154.26,148.87 L156.17,149.66 L158.08,150.37 L160.00,151.00 L161.86,151.52 L163.77,151.95 L165.71,152.30 L167.64,152.58 L169.56,152.81 L171.44,153.00 L173.26,153.16 L175.00,153.30 L176.34,153.40 L177.64,153.49 L178.90,153.55 L180.13,153.59 L181.34,153.60 L182.55,153.57 L183.77,153.51 L185.00,153.40 L186.26,153.25 L187.51,153.05 L188.76,152.82 L190.00,152.56 L191.25,152.26 L192.50,151.93 L193.75,151.58 L195.00,151.20 L196.34,150.79 L197.69,150.36 L199.05,149.91 L200.41,149.43 L201.76,148.90 L203.10,148.31 L204.41,147.65 L205.70,146.90 L207.13,145.95 L208.57,144.87 L210.00,143.70 L211.41,142.46 L212.77,141.17 L214.07,139.87 L215.28,138.57 L216.40,137.30 L217.26,136.24 L218.04,135.16 L218.75,134.08 L219.43,132.99 L220.07,131.90 L220.71,130.80 L221.34,129.70 L222.00,128.60 L222.66,127.51 L223.32,126.42 L223.98,125.33 L224.62,124.24 L225.26,123.14 L225.89,122.03 L226.50,120.92 L227.10,119.80 L227.69,118.67 L228.26,117.52 L228.82,116.37 L229.36,115.22 L229.90,114.06 L230.44,112.90 L230.97,111.75 L231.50,110.60 L232.02,109.49 L232.53,108.40 L233.04,107.31 L233.55,106.22 L234.05,105.12 L234.54,104.01 L235.03,102.87 L235.50,101.70 L236.00,100.39 L236.49,99.06 L236.95,97.71 L237.41,96.34 L237.87,94.94 L238.34,93.50 L238.81,92.02 L239.30,90.50 L239.92,88.55 L240.55,86.51 L241.19,84.41 L241.84,82.25 L242.49,80.07 L243.16,77.87 L243.83,75.67 L244.50,73.50 L245.22,71.25 L245.97,68.96 L246.74,66.65 L247.50,64.33 L248.26,62.04 L248.99,59.79 L249.67,57.60 L250.30,55.50 L250.77,53.81 L251.20,52.14 L251.60,50.49 L251.98,48.88 L252.36,47.32 L252.73,45.81 L253.10,44.37 L253.50,43.00 L253.81,42.01 L254.11,41.04 L254.40,40.11 L254.70,39.22 L255.01,38.36 L255.33,37.53 L255.66,36.75 L256.00,36.00 L256.28,35.41 L256.56,34.79 L256.86,34.17 L257.16,33.58 L257.46,33.06 L257.77,32.64 L258.08,32.34 L258.40,32.20 L258.66,32.21 L258.93,32.31 L259.21,32.47 L259.49,32.71 L259.77,32.99 L260.03,33.30 L260.28,33.65 L260.50,34.00 L260.82,34.68 L261.08,35.50 L261.29,36.42 L261.46,37.44 L261.60,38.52 L261.73,39.66 L261.86,40.82 L262.00,42.00 L262.19,43.72 L262.35,45.55 L262.49,47.48 L262.61,49.49 L262.71,51.57 L262.81,53.69 L262.91,55.84 L263.00,58.00 L263.11,60.56 L263.20,63.17 L263.27,65.84 L263.34,68.57 L263.41,71.35 L263.47,74.18 L263.53,77.06 L263.60,80.00 L263.68,83.54 L263.75,87.21 L263.82,90.98 L263.89,94.81 L263.96,98.66 L264.03,102.50 L264.11,106.29 L264.20,110.00 L264.29,113.44 L264.38,116.85 L264.48,120.23 L264.59,123.59 L264.69,126.94 L264.79,130.28 L264.90,133.63 L265.00,137.00" fill="none" stroke="#f8f028" stroke-width="1.35" stroke-linejoin="round"/>
<polygon points="264.5,60 265.2,40 266.0,30.5 267.9,29.5 268.6,60 269.2,100 269.6,130 270.0,145 266.8,136 264.9,118 264.4,90" fill="#f8f028"/>
<line x1="265.0" y1="32.7" x2="265.0" y2="60" stroke="#f8f028" stroke-width="1.0"/>
<rect x="265.6" y="36" width="0.6" height="18" fill="#fff6b0"/>
<path d="M265.90,60.00 L267.07,61.22 L266.41,62.44 L267.29,63.66 L267.38,64.88 L265.25,66.10 L265.05,67.32 L268.18,68.54 L265.99,69.76 L265.89,70.98 L268.78,72.20 L266.79,73.42 L268.18,74.64 L266.81,75.86 L267.43,77.08 L265.57,78.31 L267.41,79.53 L268.30,80.75 L266.99,81.97 L267.82,83.19 L267.55,84.41 L265.24,85.63 L267.88,86.85 L267.25,88.07 L266.14,89.29 L265.12,90.51 L268.29,91.73 L266.80,92.95 L267.73,94.17 L268.34,95.39 L267.71,96.61 L268.50,97.83 L266.50,99.05 L268.04,100.27 L266.69,101.49 L268.56,102.71 L268.34,103.93 L265.37,105.15 L265.52,106.37 L265.82,107.59 L268.67,108.81 L266.66,110.03 L267.38,111.25 L266.14,112.47 L266.93,113.69 L266.47,114.92 L266.33,116.14 L267.22,117.36 L267.22,118.58 L268.44,119.80 L267.59,121.02 L268.53,122.24 L268.25,123.46 L268.77,124.68 L267.55,125.90 L265.62,127.12 L268.27,128.34 L268.67,129.56 L268.44,130.78 L267.16,132.00" fill="none" stroke="#f8f028" stroke-width="0.9"/>
<polygon points="263.4,97 265.2,98 266.2,118 268.2,141 265.6,134 264.0,118" fill="#ff28ff"/>
<path d="M265.17,100.00 L264.06,101.36 L265.43,102.72 L264.86,104.08 L264.23,105.44 L263.74,106.80 L265.48,108.16 L265.78,109.52 L263.79,110.88 L265.36,112.24 L264.50,113.60 L263.93,114.96 L264.25,116.32 L265.29,117.68 L265.52,119.04 L263.70,120.40 L264.95,121.76 L263.70,123.12 L265.18,124.48 L264.33,125.84 L265.54,127.20 L265.76,128.56 L264.71,129.92 L265.80,131.28 L264.28,132.64 L263.77,134.00" fill="none" stroke="#ff28ff" stroke-width="0.8"/>
<polygon points="262.5,121 265.5,124 268.5,138 270.3,147 266.5,140 263.5,128" fill="#30f0f0" opacity="0.9"/>
<rect x="351.5" y="6.3" width="240.20000000000005" height="176.2" fill="none" stroke="#606060" stroke-width="1.3"/>
<line x1="347.7" y1="21.10" x2="351.5" y2="21.10" stroke="#606060" stroke-width="1.1"/>
<line x1="347.7" y1="50.42" x2="351.5" y2="50.42" stroke="#606060" stroke-width="1.1"/>
<line x1="347.7" y1="79.74" x2="351.5" y2="79.74" stroke="#606060" stroke-width="1.1"/>
<line x1="347.7" y1="109.06" x2="351.5" y2="109.06" stroke="#606060" stroke-width="1.1"/>
<line x1="347.7" y1="138.38" x2="351.5" y2="138.38" stroke="#606060" stroke-width="1.1"/>
<line x1="347.7" y1="167.70" x2="351.5" y2="167.70" stroke="#606060" stroke-width="1.1"/>
<line x1="349.5" y1="6.44" x2="351.5" y2="6.44" stroke="#606060" stroke-width="1.1"/>
<line x1="349.5" y1="35.76" x2="351.5" y2="35.76" stroke="#606060" stroke-width="1.1"/>
<line x1="349.5" y1="65.08" x2="351.5" y2="65.08" stroke="#606060" stroke-width="1.1"/>
<line x1="349.5" y1="94.40" x2="351.5" y2="94.40" stroke="#606060" stroke-width="1.1"/>
<line x1="349.5" y1="123.72" x2="351.5" y2="123.72" stroke="#606060" stroke-width="1.1"/>
<line x1="349.5" y1="153.04" x2="351.5" y2="153.04" stroke="#606060" stroke-width="1.1"/>
<line x1="349.5" y1="182.36" x2="351.5" y2="182.36" stroke="#606060" stroke-width="1.1"/>
<line x1="365.30" y1="182.5" x2="365.30" y2="186.3" stroke="#606060" stroke-width="1.1"/>
<line x1="393.62" y1="182.5" x2="393.62" y2="186.3" stroke="#606060" stroke-width="1.1"/>
<line x1="421.94" y1="182.5" x2="421.94" y2="186.3" stroke="#606060" stroke-width="1.1"/>
<line x1="450.26" y1="182.5" x2="450.26" y2="186.3" stroke="#606060" stroke-width="1.1"/>
<line x1="478.58" y1="182.5" x2="478.58" y2="186.3" stroke="#606060" stroke-width="1.1"/>
<line x1="506.90" y1="182.5" x2="506.90" y2="186.3" stroke="#606060" stroke-width="1.1"/>
<line x1="535.22" y1="182.5" x2="535.22" y2="186.3" stroke="#606060" stroke-width="1.1"/>
<line x1="563.54" y1="182.5" x2="563.54" y2="186.3" stroke="#606060" stroke-width="1.1"/>
<line x1="591.86" y1="182.5" x2="591.86" y2="186.3" stroke="#606060" stroke-width="1.1"/>
<line x1="379.46" y1="182.5" x2="379.46" y2="184.5" stroke="#606060" stroke-width="1.1"/>
<line x1="407.78" y1="182.5" x2="407.78" y2="184.5" stroke="#606060" stroke-width="1.1"/>
<line x1="436.10" y1="182.5" x2="436.10" y2="184.5" stroke="#606060" stroke-width="1.1"/>
<line x1="464.42" y1="182.5" x2="464.42" y2="184.5" stroke="#606060" stroke-width="1.1"/>
<line x1="492.74" y1="182.5" x2="492.74" y2="184.5" stroke="#606060" stroke-width="1.1"/>
<line x1="521.06" y1="182.5" x2="521.06" y2="184.5" stroke="#606060" stroke-width="1.1"/>
<line x1="549.38" y1="182.5" x2="549.38" y2="184.5" stroke="#606060" stroke-width="1.1"/>
<line x1="577.70" y1="182.5" x2="577.70" y2="184.5" stroke="#606060" stroke-width="1.1"/>
<text x="346.30" y="24.40" font-size="9.5" text-anchor="end" fill="#222" >-60</text>
<text x="346.30" y="53.72" font-size="9.5" text-anchor="end" fill="#222" >-50</text>
<text x="346.30" y="83.04" font-size="9.5" text-anchor="end" fill="#222" >-40</text>
<text x="346.30" y="112.36" font-size="9.5" text-anchor="end" fill="#222" >-30</text>
<text x="346.30" y="141.68" font-size="9.5" text-anchor="end" fill="#222" >-20</text>
<text x="346.30" y="171.00" font-size="9.5" text-anchor="end" fill="#222" >-10</text>
<text x="365.70" y="197.20" font-size="9.6" text-anchor="middle" fill="#222" >0</text>
<text x="394.02" y="197.20" font-size="9.6" text-anchor="middle" fill="#222" >500</text>
<text x="422.34" y="197.20" font-size="9.6" text-anchor="middle" fill="#222" >1000</text>
<text x="450.66" y="197.20" font-size="9.6" text-anchor="middle" fill="#222" >1500</text>
<text x="478.98" y="197.20" font-size="9.6" text-anchor="middle" fill="#222" >2000</text>
<text x="507.30" y="197.20" font-size="9.6" text-anchor="middle" fill="#222" >2500</text>
<text x="535.62" y="197.20" font-size="9.6" text-anchor="middle" fill="#222" >3000</text>
<text x="563.94" y="197.20" font-size="9.6" text-anchor="middle" fill="#222" >3500</text>
<text x="592.26" y="197.20" font-size="9.6" text-anchor="middle" fill="#222" >4000</text>
<text x="425.8" y="212.9" font-size="10.4" fill="#222" xml:space="preserve">Rotating Speed  (rpm)</text>
<text transform="translate(325.3,158) rotate(-90)" font-size="11.5" fill="#222" xml:space="preserve">Current density  (mA/cm<tspan font-size="7" dy="-4.5">2</tspan><tspan dy="4.5">)</tspan></text>
<text x="316.80" y="14.90" font-size="12" text-anchor="start" fill="#222" >(b)</text>
<path d="M370.96,163.86 L373.47,162.36 L375.98,160.94 L378.49,159.59 L381.00,158.31 L383.51,157.10 L386.02,155.95 L388.53,154.86 L391.04,153.83 L393.55,152.85 L396.06,151.93 L398.57,151.05 L401.08,150.22 L403.59,149.43 L406.10,148.68 L408.60,147.98 L411.11,147.31 L413.62,146.67 L416.13,146.07 L418.64,145.50 L421.15,144.96 L423.66,144.45 L426.17,143.96 L428.68,143.50 L431.19,143.07 L433.70,142.66 L436.21,142.27 L438.72,141.90 L441.23,141.54 L443.74,141.21 L446.25,140.90 L448.75,140.60 L451.26,140.32 L453.77,140.05 L456.28,139.79 L458.79,139.55 L461.30,139.32 L463.81,139.11 L466.32,138.90 L468.83,138.71 L471.34,138.53 L473.85,138.35 L476.36,138.19 L478.87,138.03 L481.38,137.88 L483.89,137.74 L486.39,137.61 L488.90,137.48 L491.41,137.36 L493.92,137.25 L496.43,137.14 L498.94,137.04 L501.45,136.94 L503.96,136.85 L506.47,136.77 L508.98,136.68 L511.49,136.61 L514.00,136.53 L516.51,136.46 L519.02,136.40 L521.53,136.33 L524.04,136.27 L526.54,136.22 L529.05,136.17 L531.56,136.11 L534.07,136.07 L536.58,136.02 L539.09,135.98 L541.60,135.94 L544.11,135.90 L546.62,135.86 L549.13,135.83 L551.64,135.80 L554.15,135.76 L556.66,135.73 L559.17,135.71 L561.68,135.68 L564.19,135.66 L566.69,135.63 L569.20,135.61" fill="none" stroke="#262626" stroke-width="1.3"/>
<path d="M370.60,142.51 L373.11,138.45 L375.61,134.54 L378.12,130.80 L380.63,127.21 L383.13,123.77 L385.64,120.47 L388.14,117.31 L390.65,114.27 L393.16,111.35 L395.66,108.56 L398.17,105.87 L400.68,103.29 L403.18,100.80 L405.69,98.40 L408.19,96.10 L410.70,93.87 L413.21,91.71 L415.71,89.62 L418.22,87.59 L420.73,85.62 L423.23,83.71 L425.74,81.85 L428.25,80.04 L430.75,78.29 L433.26,76.58 L435.76,74.93 L438.27,73.32 L440.78,71.75 L443.28,70.23 L445.79,68.75 L448.30,67.31 L450.80,65.92 L453.31,64.55 L455.82,63.23 L458.32,61.94 L460.83,60.68 L463.33,59.45 L465.84,58.25 L468.35,57.08 L470.85,55.94 L473.36,54.82 L475.87,53.73 L478.37,52.65 L480.88,51.60 L483.38,50.57 L485.89,49.55 L488.40,48.55 L490.90,47.56 L493.41,46.58 L495.92,45.62 L498.42,44.66 L500.93,43.72 L503.44,42.78 L505.94,41.84 L508.45,40.91 L510.95,39.98 L513.46,39.06 L515.97,38.15 L518.47,37.25 L520.98,36.38 L523.49,35.52 L525.99,34.69 L528.50,33.89 L531.01,33.13 L533.51,32.39 L536.02,31.70 L538.52,31.05 L541.03,30.44 L543.54,29.89 L546.04,29.38 L548.55,28.94 L551.06,28.55 L553.56,28.22 L556.07,27.96 L558.57,27.77 L561.08,27.66 L563.59,27.62 L566.09,27.66 L568.60,27.78" fill="none" stroke="#ff2828" stroke-width="1.3"/>
<rect x="369.16" y="164.43" width="3.6" height="3.6" fill="#000"/>
<circle cx="370.96" cy="148.06" r="2.3" fill="#ff1010"/>
<rect x="376.24" y="157.98" width="3.6" height="3.6" fill="#000"/>
<circle cx="378.04" cy="131.05" r="2.3" fill="#ff1010"/>
<rect x="386.16" y="152.41" width="3.6" height="3.6" fill="#000"/>
<circle cx="387.96" cy="116.10" r="2.3" fill="#ff1010"/>
<rect x="414.48" y="144.50" width="3.6" height="3.6" fill="#000"/>
<circle cx="416.28" cy="88.83" r="2.3" fill="#ff1010"/>
<rect x="454.12" y="139.22" width="3.6" height="3.6" fill="#000"/>
<circle cx="455.92" cy="65.81" r="2.3" fill="#ff1010"/>
<rect x="505.10" y="135.11" width="3.6" height="3.6" fill="#000"/>
<circle cx="506.90" cy="44.85" r="2.3" fill="#ff1010"/>
<rect x="567.40" y="132.18" width="3.6" height="3.6" fill="#000"/>
<circle cx="569.20" cy="24.33" r="2.3" fill="#ff1010"/>
<rect x="523.30" y="64.60" width="3.6" height="3.6" fill="#000"/>
<circle cx="525.10" cy="79.50" r="2.3" fill="#ff1010"/>
<line x1="515.3" y1="92.1" x2="534.8" y2="92.1" stroke="#262626" stroke-width="1.4"/>
<line x1="515.3" y1="104.5" x2="534.8" y2="104.5" stroke="#ff2828" stroke-width="1.2"/>
<text x="538.10" y="69.70" font-size="10.0" text-anchor="start" fill="#222" >Peak I</text>
<text x="538.10" y="82.30" font-size="10.0" text-anchor="start" fill="#222" >Peak II</text>
<text x="538.10" y="94.90" font-size="10.0" text-anchor="start" fill="#222" >Peak I</text>
<text x="538.10" y="107.50" font-size="10.0" text-anchor="start" fill="#222" >Peak II</text>
<rect x="44.2" y="252.2" width="239.7" height="176.5" fill="none" stroke="#606060" stroke-width="1.3"/>
<line x1="40.400000000000006" y1="414.00" x2="44.2" y2="414.00" stroke="#606060" stroke-width="1.1"/>
<line x1="40.400000000000006" y1="384.54" x2="44.2" y2="384.54" stroke="#606060" stroke-width="1.1"/>
<line x1="40.400000000000006" y1="355.08" x2="44.2" y2="355.08" stroke="#606060" stroke-width="1.1"/>
<line x1="40.400000000000006" y1="325.62" x2="44.2" y2="325.62" stroke="#606060" stroke-width="1.1"/>
<line x1="40.400000000000006" y1="296.16" x2="44.2" y2="296.16" stroke="#606060" stroke-width="1.1"/>
<line x1="40.400000000000006" y1="266.70" x2="44.2" y2="266.70" stroke="#606060" stroke-width="1.1"/>
<line x1="42.2" y1="281.43" x2="44.2" y2="281.43" stroke="#606060" stroke-width="1.1"/>
<line x1="42.2" y1="310.89" x2="44.2" y2="310.89" stroke="#606060" stroke-width="1.1"/>
<line x1="42.2" y1="340.35" x2="44.2" y2="340.35" stroke="#606060" stroke-width="1.1"/>
<line x1="42.2" y1="369.81" x2="44.2" y2="369.81" stroke="#606060" stroke-width="1.1"/>
<line x1="42.2" y1="399.27" x2="44.2" y2="399.27" stroke="#606060" stroke-width="1.1"/>
<line x1="42.2" y1="428.73" x2="44.2" y2="428.73" stroke="#606060" stroke-width="1.1"/>
<line x1="59.40" y1="428.7" x2="59.40" y2="432.5" stroke="#606060" stroke-width="1.1"/>
<line x1="89.38" y1="428.7" x2="89.38" y2="432.5" stroke="#606060" stroke-width="1.1"/>
<line x1="119.36" y1="428.7" x2="119.36" y2="432.5" stroke="#606060" stroke-width="1.1"/>
<line x1="149.34" y1="428.7" x2="149.34" y2="432.5" stroke="#606060" stroke-width="1.1"/>
<line x1="179.32" y1="428.7" x2="179.32" y2="432.5" stroke="#606060" stroke-width="1.1"/>
<line x1="209.30" y1="428.7" x2="209.30" y2="432.5" stroke="#606060" stroke-width="1.1"/>
<line x1="239.28" y1="428.7" x2="239.28" y2="432.5" stroke="#606060" stroke-width="1.1"/>
<line x1="269.26" y1="428.7" x2="269.26" y2="432.5" stroke="#606060" stroke-width="1.1"/>
<line x1="74.39" y1="428.7" x2="74.39" y2="430.7" stroke="#606060" stroke-width="1.1"/>
<line x1="104.37" y1="428.7" x2="104.37" y2="430.7" stroke="#606060" stroke-width="1.1"/>
<line x1="134.35" y1="428.7" x2="134.35" y2="430.7" stroke="#606060" stroke-width="1.1"/>
<line x1="164.33" y1="428.7" x2="164.33" y2="430.7" stroke="#606060" stroke-width="1.1"/>
<line x1="194.31" y1="428.7" x2="194.31" y2="430.7" stroke="#606060" stroke-width="1.1"/>
<line x1="224.29" y1="428.7" x2="224.29" y2="430.7" stroke="#606060" stroke-width="1.1"/>
<line x1="254.27" y1="428.7" x2="254.27" y2="430.7" stroke="#606060" stroke-width="1.1"/>
<text x="38.90" y="417.50" font-size="10.0" text-anchor="end" fill="#222" >-60</text>
<text x="38.90" y="388.04" font-size="10.0" text-anchor="end" fill="#222" >-50</text>
<text x="38.90" y="358.58" font-size="10.0" text-anchor="end" fill="#222" >-40</text>
<text x="38.90" y="329.12" font-size="10.0" text-anchor="end" fill="#222" >-30</text>
<text x="38.90" y="299.66" font-size="10.0" text-anchor="end" fill="#222" >-20</text>
<text x="38.90" y="270.20" font-size="10.0" text-anchor="end" fill="#222" >-10</text>
<text x="58.90" y="442.80" font-size="9.5" text-anchor="middle" fill="#222" >0.1</text>
<text x="88.88" y="442.80" font-size="9.5" text-anchor="middle" fill="#222" >0.2</text>
<text x="118.86" y="442.80" font-size="9.5" text-anchor="middle" fill="#222" >0.3</text>
<text x="148.84" y="442.80" font-size="9.5" text-anchor="middle" fill="#222" >0.4</text>
<text x="178.82" y="442.80" font-size="9.5" text-anchor="middle" fill="#222" >0.5</text>
<text x="208.80" y="442.80" font-size="9.5" text-anchor="middle" fill="#222" >0.6</text>
<text x="238.78" y="442.80" font-size="9.5" text-anchor="middle" fill="#222" >0.7</text>
<text x="268.76" y="442.80" font-size="9.5" text-anchor="middle" fill="#222" >0.8</text>
<text transform="translate(11.0,397) rotate(-90)" font-size="11.5" fill="#222" xml:space="preserve">Current density  (mA/cm<tspan font-size="7" dy="-4.5">2</tspan><tspan dy="4.5">)</tspan></text>
<text x="12.80" y="254.80" font-size="12" text-anchor="start" fill="#222" >(c)</text>
<g transform="translate(0,0)" fill="none" stroke="#222"><path d="M129.6,453.0 C129.2,451.6 127.4,451.4 126.4,453.4 C125.6,455.2 123.6,462.4 122.6,463.8 C121.8,465.0 120.8,465.4 119.9,464.6" stroke-width="1.25"/><path d="M123.6,455.7 L127.8,455.7" stroke-width="0.9"/></g>
<text x="131" y="457.8" font-size="9.8" fill="#222">-1/2</text>
<text x="158.2" y="460.5" font-size="9" fill="#222" xml:space="preserve">(Hz<tspan font-size="6" dy="-4.5">-1/2</tspan><tspan dy="4.5">  )</tspan></text>
<path d="M68.09,300.19 L70.55,299.30 L73.00,298.44 L75.45,297.59 L77.90,296.77 L80.35,295.96 L82.80,295.17 L85.25,294.41 L87.71,293.66 L90.16,292.92 L92.61,292.21 L95.06,291.51 L97.51,290.83 L99.96,290.16 L102.42,289.51 L104.87,288.88 L107.32,288.26 L109.77,287.65 L112.22,287.06 L114.67,286.48 L117.12,285.92 L119.58,285.37 L122.03,284.83 L124.48,284.31 L126.93,283.79 L129.38,283.29 L131.83,282.80 L134.29,282.33 L136.74,281.86 L139.19,281.41 L141.64,280.96 L144.09,280.53 L146.54,280.10 L148.99,279.69 L151.45,279.29 L153.90,278.89 L156.35,278.51 L158.80,278.13 L161.25,277.76 L163.70,277.41 L166.16,277.06 L168.61,276.71 L171.06,276.38 L173.51,276.05 L175.96,275.74 L178.41,275.42 L180.86,275.12 L183.32,274.82 L185.77,274.54 L188.22,274.25 L190.67,273.98 L193.12,273.71 L195.57,273.44 L198.03,273.19 L200.48,272.94 L202.93,272.69 L205.38,272.45 L207.83,272.22 L210.28,271.99 L212.73,271.77 L215.19,271.55 L217.64,271.34 L220.09,271.13 L222.54,270.93 L224.99,270.73 L227.44,270.54 L229.90,270.35 L232.35,270.16 L234.80,269.98 L237.25,269.81 L239.70,269.64 L242.15,269.47 L244.60,269.31 L247.06,269.15 L249.51,268.99 L251.96,268.84 L254.41,268.69 L256.86,268.55 L259.31,268.40 L261.76,268.27" fill="none" stroke="#262626" stroke-width="1.3"/>
<path d="M67.70,407.11 L70.15,401.03 L72.59,395.42 L75.04,390.25 L77.48,385.46 L79.93,381.00 L82.37,376.82 L84.82,372.88 L87.26,369.13 L89.71,365.54 L92.16,362.08 L94.60,358.77 L97.05,355.59 L99.49,352.55 L101.94,349.63 L104.38,346.83 L106.83,344.16 L109.27,341.59 L111.72,339.14 L114.17,336.80 L116.61,334.56 L119.06,332.42 L121.50,330.37 L123.95,328.42 L126.39,326.55 L128.84,324.76 L131.28,323.05 L133.73,321.42 L136.18,319.85 L138.62,318.36 L141.07,316.92 L143.51,315.54 L145.96,314.22 L148.40,312.95 L150.85,311.73 L153.29,310.55 L155.74,309.43 L158.19,308.34 L160.63,307.31 L163.08,306.32 L165.52,305.37 L167.97,304.46 L170.41,303.60 L172.86,302.77 L175.31,301.98 L177.75,301.23 L180.20,300.51 L182.64,299.83 L185.09,299.18 L187.53,298.56 L189.98,297.97 L192.42,297.41 L194.87,296.88 L197.32,296.38 L199.76,295.91 L202.21,295.46 L204.65,295.03 L207.10,294.62 L209.54,294.24 L211.99,293.88 L214.43,293.53 L216.88,293.21 L219.33,292.90 L221.77,292.60 L224.22,292.32 L226.66,292.05 L229.11,291.80 L231.55,291.55 L234.00,291.31 L236.44,291.09 L238.89,290.86 L241.34,290.65 L243.78,290.44 L246.23,290.23 L248.67,290.03 L251.12,289.82 L253.56,289.62 L256.01,289.41 L258.45,289.21 L260.90,288.99" fill="none" stroke="#ff2828" stroke-width="1.3"/>
<rect x="66.29" y="298.48" width="3.6" height="3.6" fill="#000"/>
<circle cx="68.09" cy="409.88" r="2.3" fill="#ff1010"/>
<rect x="74.09" y="295.54" width="3.6" height="3.6" fill="#000"/>
<circle cx="75.89" cy="389.84" r="2.3" fill="#ff1010"/>
<rect x="85.78" y="292.00" width="3.6" height="3.6" fill="#000"/>
<circle cx="87.58" cy="368.93" r="2.3" fill="#ff1010"/>
<rect x="104.97" y="286.41" width="3.6" height="3.6" fill="#000"/>
<circle cx="106.77" cy="345.95" r="2.3" fill="#ff1010"/>
<rect x="143.64" y="278.45" width="3.6" height="3.6" fill="#000"/>
<circle cx="145.44" cy="318.55" r="2.3" fill="#ff1010"/>
<rect x="182.32" y="273.15" width="3.6" height="3.6" fill="#000"/>
<circle cx="184.12" cy="303.82" r="2.3" fill="#ff1010"/>
<rect x="259.96" y="266.08" width="3.6" height="3.6" fill="#000"/>
<circle cx="261.76" cy="286.14" r="2.3" fill="#ff1010"/>
<rect x="351.9" y="252.8" width="239.89999999999998" height="176.2" fill="none" stroke="#606060" stroke-width="1.3"/>
<line x1="348.09999999999997" y1="291.90" x2="351.9" y2="291.90" stroke="#606060" stroke-width="1.1"/>
<line x1="348.09999999999997" y1="350.75" x2="351.9" y2="350.75" stroke="#606060" stroke-width="1.1"/>
<line x1="348.09999999999997" y1="409.60" x2="351.9" y2="409.60" stroke="#606060" stroke-width="1.1"/>
<line x1="349.9" y1="262.47" x2="351.9" y2="262.47" stroke="#606060" stroke-width="1.1"/>
<line x1="349.9" y1="321.33" x2="351.9" y2="321.33" stroke="#606060" stroke-width="1.1"/>
<line x1="349.9" y1="380.18" x2="351.9" y2="380.18" stroke="#606060" stroke-width="1.1"/>
<line x1="396.88" y1="429.0" x2="396.88" y2="432.8" stroke="#606060" stroke-width="1.1"/>
<line x1="456.87" y1="429.0" x2="456.87" y2="432.8" stroke="#606060" stroke-width="1.1"/>
<line x1="516.84" y1="429.0" x2="516.84" y2="432.8" stroke="#606060" stroke-width="1.1"/>
<line x1="576.82" y1="429.0" x2="576.82" y2="432.8" stroke="#606060" stroke-width="1.1"/>
<line x1="366.89" y1="429.0" x2="366.89" y2="431.0" stroke="#606060" stroke-width="1.1"/>
<line x1="426.88" y1="429.0" x2="426.88" y2="431.0" stroke="#606060" stroke-width="1.1"/>
<line x1="486.85" y1="429.0" x2="486.85" y2="431.0" stroke="#606060" stroke-width="1.1"/>
<line x1="546.83" y1="429.0" x2="546.83" y2="431.0" stroke="#606060" stroke-width="1.1"/>
<text x="345.60" y="295.20" font-size="9.4" text-anchor="end" fill="#222" >-0.03</text>
<text x="345.60" y="354.05" font-size="9.4" text-anchor="end" fill="#222" >-0.06</text>
<text x="345.60" y="412.90" font-size="9.4" text-anchor="end" fill="#222" >-0.09</text>
<text x="396.88" y="442.80" font-size="9.4" text-anchor="middle" fill="#222" >0.2</text>
<text x="456.87" y="442.80" font-size="9.4" text-anchor="middle" fill="#222" >0.4</text>
<text x="516.84" y="442.80" font-size="9.4" text-anchor="middle" fill="#222" >0.6</text>
<text x="576.82" y="442.80" font-size="9.4" text-anchor="middle" fill="#222" >0.8</text>
<text x="317.80" y="257.80" font-size="12" text-anchor="start" fill="#222" >(d)</text>
<g transform="translate(313.4,0)" fill="none" stroke="#222"><path d="M129.6,453.0 C129.2,451.6 127.4,451.4 126.4,453.4 C125.6,455.2 123.6,462.4 122.6,463.8 C121.8,465.0 120.8,465.4 119.9,464.6" stroke-width="1.25"/><path d="M123.6,455.7 L127.8,455.7" stroke-width="0.9"/></g>
<text x="445" y="457.8" font-size="9.8" fill="#222">-1/2</text>
<text x="471" y="459.3" font-size="9" fill="#222" xml:space="preserve">(Hz<tspan font-size="6" dy="-4.5">-1/2</tspan><tspan dy="4.5">  )</tspan></text>
<text transform="translate(312.5,378.5) rotate(-90)" font-size="13" font-style="italic" fill="#222">i</text>
<text transform="translate(308.4,375) rotate(-90)" font-size="11.8" fill="#222">-1</text>
<text transform="translate(312.9,357) rotate(-90)" font-size="10.4" fill="#222" xml:space="preserve">mA<tspan font-size="6.3" dy="-5.6">-1</tspan><tspan dy="5.6">cm</tspan><tspan font-size="6.3" dy="-5.6">2</tspan></text>
<line x1="375.3" y1="267.2" x2="568.8" y2="350.6" stroke="#ff2828" stroke-width="1.3"/>
<line x1="375.3" y1="326.3" x2="569.2" y2="421.3" stroke="#262626" stroke-width="1.3"/>
<rect x="373.79" y="264.55" width="3.6" height="3.6" fill="#ff1010"/>
<rect x="381.59" y="269.05" width="3.6" height="3.6" fill="#ff1010"/>
<rect x="393.29" y="275.09" width="3.6" height="3.6" fill="#ff1010"/>
<rect x="412.48" y="284.41" width="3.6" height="3.6" fill="#ff1010"/>
<rect x="451.17" y="302.33" width="3.6" height="3.6" fill="#ff1010"/>
<rect x="489.85" y="318.44" width="3.6" height="3.6" fill="#ff1010"/>
<rect x="567.53" y="348.72" width="3.6" height="3.6" fill="#ff1010"/>
<circle cx="375.30" cy="324.20" r="2.3" fill="#000"/>
<circle cx="383.10" cy="328.70" r="2.3" fill="#000"/>
<circle cx="394.80" cy="335.20" r="2.3" fill="#000"/>
<circle cx="413.90" cy="346.00" r="2.3" fill="#000"/>
<circle cx="453.30" cy="366.80" r="2.3" fill="#000"/>
<circle cx="491.60" cy="385.30" r="2.3" fill="#000"/>
<circle cx="569.20" cy="420.70" r="2.3" fill="#000"/>
<text x="430.0" y="284.1" font-size="8.8" fill="#1a1a1a" xml:space="preserve">i<tspan font-size="6.2" dy="-4.2"> -1</tspan><tspan dy="4.2">= - 0.7 f</tspan><tspan font-size="6.6" dy="-4.2" dx="0.6">-1/2</tspan><tspan dy="4.2">- 0.01</tspan></text>
<text x="405.3" y="384.1" font-size="8.8" fill="#1a1a1a" xml:space="preserve">i<tspan font-size="6.2" dy="-4.2"> -1</tspan><tspan dy="4.2">= - 0.8 f</tspan><tspan font-size="6.6" dy="-4.2" dx="0.6">-1/2</tspan><tspan dy="4.2">- 0.04</tspan></text>
<circle cx="517.30" cy="353.70" r="2.2" fill="#000"/>
<rect x="515.50" y="362.50" width="3.6" height="3.6" fill="#ff1010"/>
<line x1="507.3" y1="375.2" x2="527.2" y2="375.2" stroke="#ff2828" stroke-width="1.2"/>
<line x1="507.3" y1="386.1" x2="527.2" y2="386.1" stroke="#262626" stroke-width="1.4"/>
<text x="529.50" y="356.60" font-size="8.6" text-anchor="start" fill="#222" >Peak I</text>
<text x="529.50" y="367.23" font-size="8.6" text-anchor="start" fill="#222" >Peak II</text>
<text x="529.50" y="377.86" font-size="8.6" text-anchor="start" fill="#222" >Peak I fitting</text>
<text x="529.50" y="388.49" font-size="8.6" text-anchor="start" fill="#222" >Peak II fitting</text>
</svg></body></html>
